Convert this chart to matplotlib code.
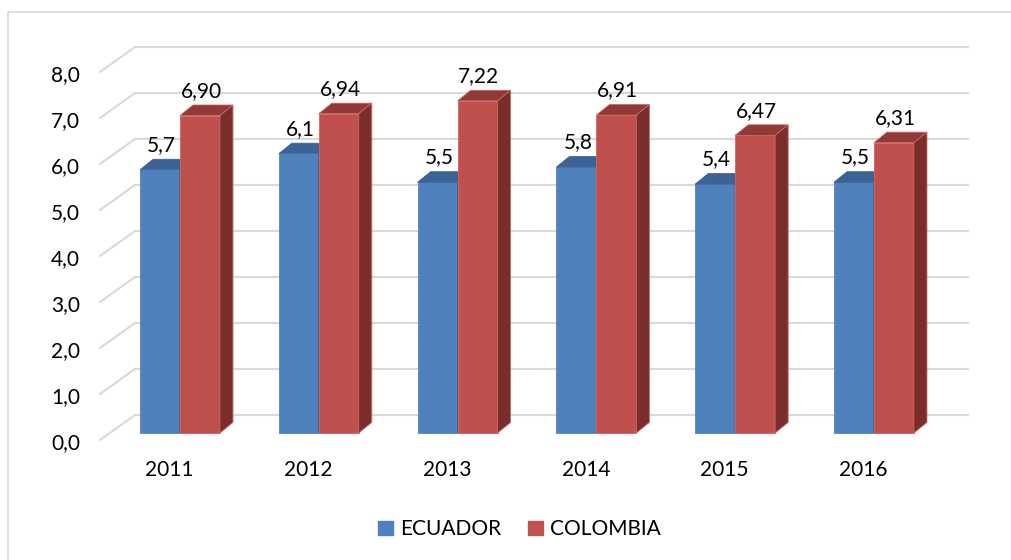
import matplotlib.pyplot as plt
from matplotlib.patches import Polygon, Rectangle, Patch
import numpy as np

plt.rcParams['font.family'] = ['Lato', 'DejaVu Sans']

years = ['2011', '2012', '2013', '2014', '2015', '2016']
ecuador = [5.72, 6.07, 5.45, 5.78, 5.41, 5.45]
ecuador_labels = ['5,7', '6,1', '5,5', '5,8', '5,4', '5,5']
colombia = [6.90, 6.94, 7.22, 6.91, 6.47, 6.31]
colombia_labels = ['6,90', '6,94', '7,22', '6,91', '6,47', '6,31']
yticks = np.arange(0, 9, 1)

# colours (Excel 3D look)
blue_front, blue_top = '#4F81BD', '#3B6396'
red_front, red_top, red_side = '#C0504D', '#8F3A37', '#7A2E2C'
grid_col = '#D9D9D9'
fs = 15

# fake 3D geometry, in data units
bw = 0.288            # bar width
shift = 0.076         # group boundary offset from category centre
bdx, bdy = 0.094, 0.23    # bar depth
wdx = 0.252           # back wall depth (x)
wfront, wback = -0.152, 0.391   # front / back offsets of the wall grid

fig = plt.figure(figsize=(10.11, 5.6), dpi=100)
ax = fig.add_axes([0, 0, 1, 1])
ax.set_xlim(-1.2205, 6.0634)
ax.set_ylim(-2.761, 9.413)
ax.axis('off')

n = len(years)
x = np.arange(n)
left, right = -0.5, n - 0.5

# wall gridlines
for v in yticks:
    ax.plot([left, left + wdx], [v + wfront, v + wback], color=grid_col, lw=1.5, zorder=1)
    ax.plot([left + wdx, right + wdx], [v + wback, v + wback], color=grid_col, lw=1.5, zorder=1)
    ax.text(left - 0.144, v + wfront - 0.06, f'{v:.1f}'.replace('.', ','),
            ha='right', va='center', fontsize=fs)


def draw_bar(x0, h, front, top, side, edge=None, z=2):
    ax.bar(x0, h, width=bw, align='edge', color=front, zorder=z,
           edgecolor=edge if edge else front, linewidth=0.6)
    ax.add_patch(Polygon([(x0, h), (x0 + bw, h), (x0 + bw + bdx, h + bdy), (x0 + bdx, h + bdy)],
                         closed=True, facecolor=top, edgecolor=edge if edge else top,
                         linewidth=0.6, zorder=z))
    if side is not None:
        ax.add_patch(Polygon([(x0 + bw, 0), (x0 + bw + bdx, bdy), (x0 + bw + bdx, h + bdy), (x0 + bw, h)],
                             closed=True, facecolor=side, edgecolor=edge if edge else side,
                             linewidth=0.6, zorder=z))


for i in range(n):
    xb = x[i] + shift - bw
    xr = x[i] + shift
    draw_bar(xb, ecuador[i], blue_front, blue_top, blue_top, z=2)
    draw_bar(xr, colombia[i], red_front, red_top, red_side, edge='#CF6562', z=3)
    ax.annotate(ecuador_labels[i], (xb + bw / 2 + 0.01, ecuador[i] + bdy), xytext=(0, 3),
                textcoords='offset points', ha='center', va='bottom', fontsize=fs)
    ax.annotate(colombia_labels[i], (xr + bw / 2 + 0.01, colombia[i] + bdy), xytext=(0, 3),
                textcoords='offset points', ha='center', va='bottom', fontsize=fs)
    ax.text(x[i], -0.80, years[i], ha='center', va='center', fontsize=fs)

# legend
handles = [Patch(color=blue_front, label='ECUADOR'), Patch(color=red_front, label='COLOMBIA')]
fig.legend(handles=handles, loc='center', bbox_to_anchor=(0.514, 0.055), ncol=2, frameon=False,
           fontsize=fs, handlelength=0.7, handleheight=0.7, handletextpad=0.35,
           columnspacing=1.3)

# chart area border (cropped at right / bottom)
fig.patches.append(Rectangle((8 / 1011, -0.1), 2, 548 / 560 + 0.1, transform=fig.transFigure,
                             fill=False, edgecolor=grid_col, lw=1.2))

fig.savefig('out.png', dpi=100)
